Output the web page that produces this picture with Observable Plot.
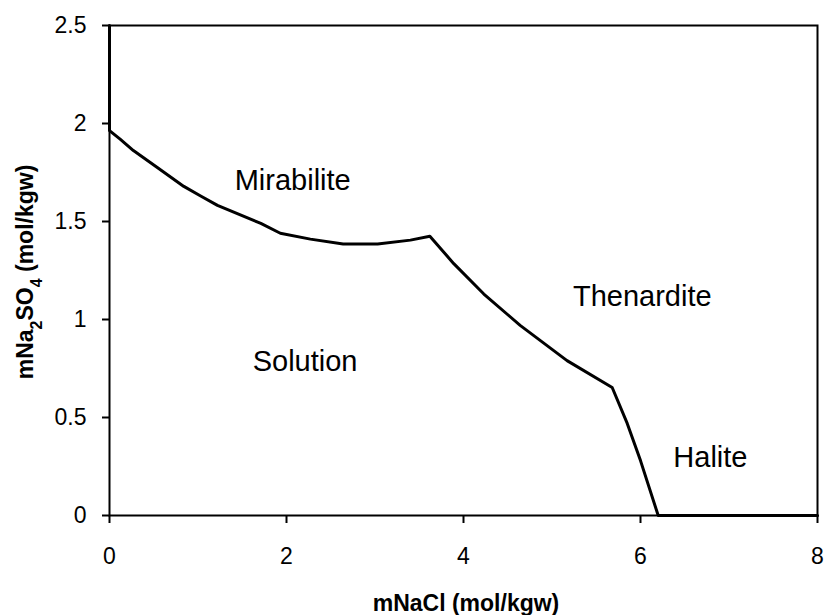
<!DOCTYPE html>
<html>
<head>
<meta charset="utf-8">
<script src="https://cdn.jsdelivr.net/npm/d3@7"></script>
<script src="https://cdn.jsdelivr.net/npm/@observablehq/plot@0.6"></script>
<style>
  html, body { margin: 0; padding: 0; background: #fff; }
  #chart svg { display: block; }
</style>
</head>
<body>
<div id="chart"></div>
<script>
// Phase boundary of the NaCl–Na2SO4–H2O system (molality, mol per kg water)
const boundaryNaCl   = [0, 0, 0.12, 0.27, 0.54, 0.84, 1.03, 1.22, 1.71, 1.93, 2.27, 2.64, 3.03, 3.40, 3.62, 3.89, 4.23, 4.64, 5.17, 5.68, 5.85, 6.0, 6.2, 8];
const boundaryNa2SO4 = [2.5, 1.964, 1.92, 1.862, 1.776, 1.679, 1.63, 1.582, 1.49, 1.44, 1.41, 1.385, 1.385, 1.405, 1.425, 1.285, 1.13, 0.97, 0.79, 0.653, 0.47, 0.28, 0, 0];

// Stability-field labels
const fieldNames   = ["Mirabilite", "Solution", "Thenardite", "Halite"];
const fieldNaCl    = [2.07, 2.21, 6.02, 6.79];
const fieldNa2SO4  = [1.71, 0.786, 1.117, 0.296];

// Axis ticks
const xTicks = [0, 2, 4, 6, 8];
const yTicks = [0, 0.5, 1, 1.5, 2, 2.5];

const boundary = boundaryNaCl.map((x, i) => ({x, y: boundaryNa2SO4[i]}));
const fields = fieldNames.map((name, i) => ({name, x: fieldNaCl[i], y: fieldNa2SO4[i]}));

const font = "'Liberation Sans', Arial, Helvetica, sans-serif";

const plot = Plot.plot({
  width: 827,
  height: 615,
  marginLeft: 109,
  marginRight: 10,
  marginTop: 25,
  marginBottom: 100,
  style: {fontFamily: font, fontSize: "23px", color: "#000", background: "#fff"},
  x: {domain: [0, 8]},
  y: {domain: [0, 2.5]},
  marks: [
    Plot.frame({stroke: "#000", strokeWidth: 2}),
    Plot.axisX(xTicks, {
      tickSize: 8, tickPadding: 24, strokeWidth: 2,
      tickFormat: d => String(d), label: null, fontSize: 23, fill: "#000"
    }),
    Plot.axisY(yTicks, {
      tickSize: 7, tickPadding: 16, strokeWidth: 2,
      tickFormat: d => String(d), label: null, fontSize: 23, fill: "#000"
    }),
    Plot.line(boundary, {x: "x", y: "y", stroke: "#000", strokeWidth: 3, strokeLinejoin: "round"}),
    Plot.text(fields, {
      x: "x", y: "y", text: "name",
      fontSize: 29, fill: "#000", textAnchor: "middle"
    })
  ]
});

// Axis titles (the y title uses subscripts, so it is written with tspans)
const svg = d3.select(plot);
const xs = plot.scale("x"), ys = plot.scale("y");
const xMid = (xs.apply(0) + xs.apply(8)) / 2;
const yMid = (ys.apply(0) + ys.apply(2.5)) / 2;

svg.append("text")
  .attr("x", xMid + 3)
  .attr("y", 611)
  .attr("text-anchor", "middle")
  .attr("font-family", font)
  .attr("font-weight", "bold")
  .attr("font-size", 23)
  .attr("fill", "#000")
  .text("mNaCl (mol/kgw)");

const yt = svg.append("text")
  .attr("transform", `translate(33,${yMid + 2}) rotate(-90)`)
  .attr("text-anchor", "middle")
  .attr("font-family", font)
  .attr("font-weight", "bold")
  .attr("font-size", 23)
  .attr("fill", "#000");
yt.append("tspan").text("mNa");
yt.append("tspan").attr("baseline-shift", "sub").attr("font-size", 16).text("2");
yt.append("tspan").text("SO");
yt.append("tspan").attr("baseline-shift", "sub").attr("font-size", 16).text("4");
yt.append("tspan").text(" (mol/kgw)");

document.getElementById("chart").appendChild(plot);
</script>
</body>
</html>
